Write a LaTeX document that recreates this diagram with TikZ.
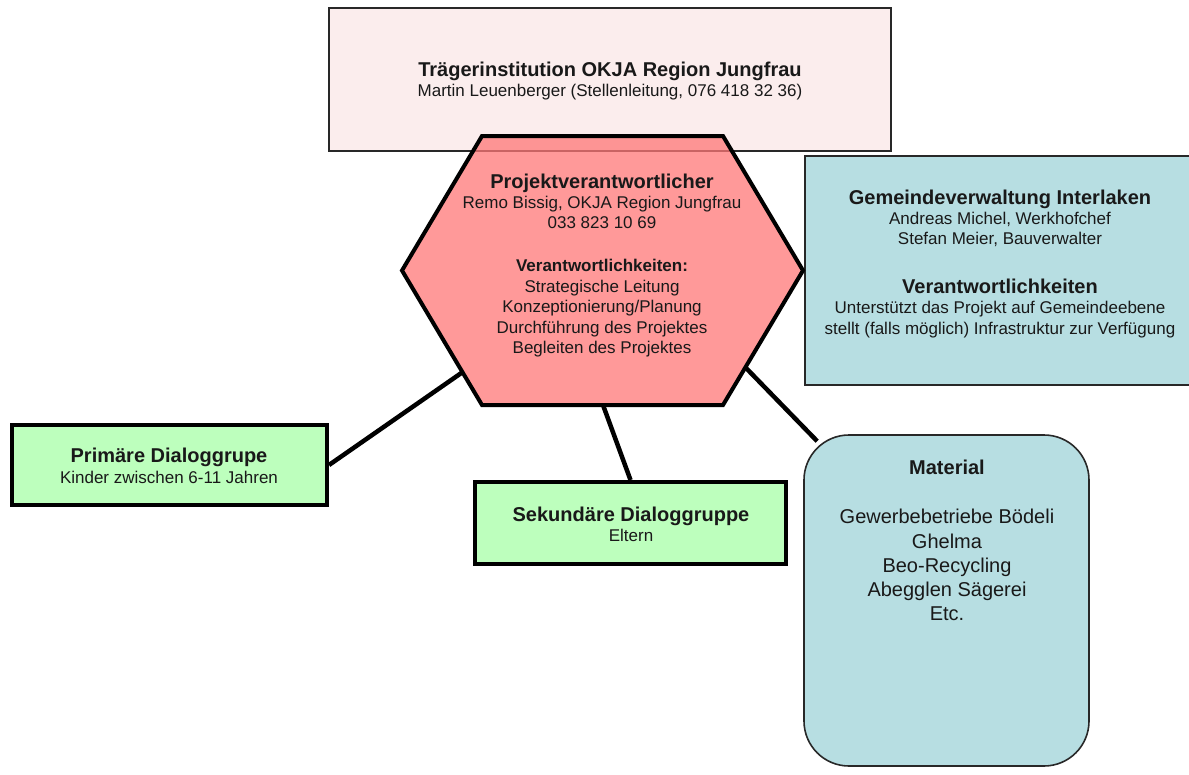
\documentclass[tikz,border=0pt]{standalone}
\usepackage{fontspec}
\setmainfont{Liberation Sans}
\usetikzlibrary{calc}
\definecolor{pinkbg}{RGB}{251,237,237}
\definecolor{hexfill}{RGB}{255,119,119}
\definecolor{bluebg}{RGB}{183,222,226}
\definecolor{greenbg}{RGB}{189,255,189}
\definecolor{thinline}{RGB}{40,40,40}
\newcommand\myhdr{\bfseries\fontsize{20}{24}\selectfont}
\newcommand\mybdy{\fontsize{17}{20}\selectfont}
\newcommand\mybdyb{\bfseries\fontsize{17}{20}\selectfont}
\newcommand\mymat{\fontsize{20}{24}\selectfont}
\begin{document}
\begin{tikzpicture}[x=1pt,y=-1pt,
  thinbox/.style={draw=thinline, line width=1.6pt, inner sep=0pt, rectangle},
  thickbox/.style={draw=black, line width=4pt, inner sep=0pt, rectangle},
  conn/.style={draw=black, line width=4.5pt},
  txt/.style={anchor=base, inner sep=0pt, text=black!90}]
\useasboundingbox (0,0) rectangle (1189,774);
\fill[white] (0,0) rectangle (1189,774);

% boxes
\node[thinbox, fill=pinkbg, minimum width=562pt, minimum height=143pt] (trag) at (610,79.5) {};
\node[thinbox, fill=bluebg, minimum width=395pt, minimum height=229pt] (gem) at (1002.5,270.5) {};
\node[thickbox, fill=greenbg, minimum width=315pt, minimum height=80pt] (prim) at (169.5,465) {};
\node[thickbox, fill=greenbg, minimum width=311pt, minimum height=82pt] (sek) at (630.5,523) {};
\node[thinbox, fill=bluebg, rounded corners=45pt, minimum width=285pt, minimum height=331pt] (mat) at (946.5,600.5) {};

% hexagon
\coordinate (htl) at (482,136);
\coordinate (htr) at (723,136);
\coordinate (hr) at (803,270.5);
\coordinate (hbr) at (723,405);
\coordinate (hbl) at (482,405);
\coordinate (hl) at (402,270.5);
\filldraw[line width=4pt, draw=black, fill=hexfill, fill opacity=0.75]
  (htl) -- (htr) -- (hr) -- (hbr) -- (hbl) -- (hl) -- cycle;

% connector ends on the hexagon
\coordinate (hcl) at ($(hl)!0.756!(hbl)$);
\coordinate (hcb) at ($(hbl)!0.502!(hbr)$);
\coordinate (hcr) at ($(hr)!0.72!(hbr)$);
\coordinate (matc) at ($(mat.north west)+(14,7)$);

\draw[conn] (prim.east) -- (hcl);
\draw[conn] (sek.north) -- (hcb);
\draw[conn] (matc) -- (hcr);

% texts: Traegerinstitution
\node[txt] (t1) at (610,76) {\myhdr Trägerinstitution OKJA Region Jungfrau};
\node[txt] (t2) at (610,96) {\mybdy Martin Leuenberger (Stellenleitung, 076 418 32 36)};

% Projektverantwortlicher
\node[txt] (p1) at (602,188) {\myhdr Projektverantwortlicher};
\node[txt] (p2) at (602,208) {\mybdy Remo Bissig, OKJA Region Jungfrau};
\node[txt] (p3) at (602,228) {\mybdy 033 823 10 69};
\node[txt] (p4) at (602,271) {\mybdyb Verantwortlichkeiten:};
\node[txt] (p5) at (602,292) {\mybdy Strategische Leitung};
\node[txt] (p6) at (602,312.5) {\mybdy Konzeptionierung/Planung};
\node[txt] (p7) at (602,333) {\mybdy Durchführung des Projektes};
\node[txt] (p8) at (602,353) {\mybdy Begleiten des Projektes};

% Gemeindeverwaltung
\node[txt] (g1) at (1000,204) {\myhdr Gemeindeverwaltung Interlaken};
\node[txt] (g2) at (1000,224) {\mybdy Andreas Michel, Werkhofchef};
\node[txt] (g3) at (1000,244) {\mybdy Stefan Meier, Bauverwalter};
\node[txt] (g4) at (1000,293) {\myhdr Verantwortlichkeiten};
\node[txt] (g5) at (1000,313) {\mybdy Unterstützt das Projekt auf Gemeindeebene};
\node[txt] (g6) at (1000,334) {\mybdy stellt (falls möglich) Infrastruktur zur Verfügung};

% Primaere Dialoggruppe
\node[txt] (d1) at (169,462) {\myhdr Primäre Dialoggrupe};
\node[txt] (d2) at (169,483) {\mybdy Kinder zwischen 6-11 Jahren};

% Sekundaere Dialoggruppe
\node[txt] (s1) at (631,521) {\myhdr Sekundäre Dialoggruppe};
\node[txt] (s2) at (631,541) {\mybdy Eltern};

% Material
\node[txt] (m1) at (947,474) {\myhdr Material};
\node[txt] (m2) at (947,523) {\mymat Gewerbebetriebe Bödeli};
\node[txt] (m3) at (947,548) {\mymat Ghelma};
\node[txt] (m4) at (947,572) {\mymat Beo-Recycling};
\node[txt] (m5) at (947,596) {\mymat Abegglen Sägerei};
\node[txt] (m6) at (947,620) {\mymat Etc.};
\end{tikzpicture}
\end{document}
